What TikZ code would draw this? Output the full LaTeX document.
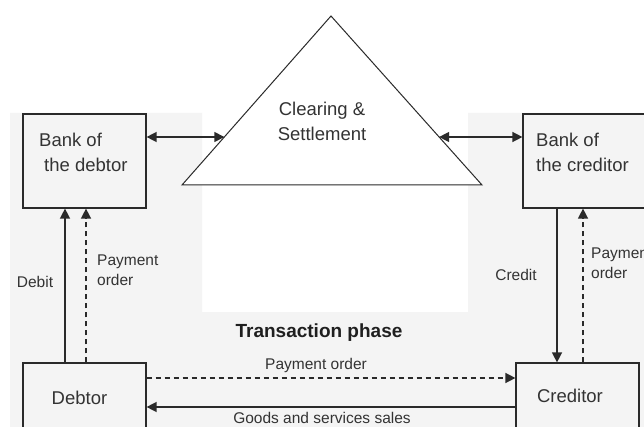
\documentclass[tikz,border=0pt]{standalone}
\usepackage{fontspec}
\setmainfont{Liberation Sans}
\usetikzlibrary{arrows.meta,calc}
\definecolor{panel}{HTML}{F4F4F4}
\definecolor{ink}{HTML}{2A2A2A}
\definecolor{txt}{HTML}{333333}
\begin{document}
\begin{tikzpicture}[x=1pt,y=-1pt,
  box/.style={draw=ink,line width=1.2pt,fill=panel,rectangle,inner sep=0pt},
  boxtext/.style={text=txt,font=\fontsize{18.5}{25}\selectfont,inner sep=0pt},
  lbl/.style={text=txt,font=\fontsize{15.5}{20}\selectfont,inner sep=0pt},
  tip/.style={-{Triangle[length=10pt,width=10pt]}},
  bitip/.style={{Triangle[length=10pt,width=10pt]}-{Triangle[length=10pt,width=10pt]}},
  flow/.style={draw=ink,line width=1.4pt},
  dflow/.style={flow,dash pattern=on 5pt off 4pt}]
\useasboundingbox (0,0) rectangle (644,427);
\clip (0,0) rectangle (644,427);
\fill[white] (0,0) rectangle (644,427);
% grey panel with the white window in the middle
\fill[panel] (10,113) -- (202,113) -- (202,312) -- (468,312) -- (468,113)
  -- (644,113) -- (644,427) -- (10,427) -- cycle;

% clearing and settlement triangle
\coordinate (apex) at (331,16);
\coordinate (tbl) at (182,185);
\coordinate (tbr) at (482,185);
\draw[draw=ink,line width=1pt,fill=white,line join=miter] (tbl) -- (apex) -- (tbr) -- cycle;
\node[boxtext,align=center] (cs) at (322,121) {Clearing \&\\Settlement};

% boxes
\node[box,minimum width=123pt,minimum height=94pt] (bankd) at (84.5,161) {};
\node[box,minimum width=142pt,minimum height=94pt] (bankc) at (594,161) {};
\node[box,minimum width=123pt,minimum height=80pt] (debtor) at (84.5,403) {};
\node[box,minimum width=123pt,minimum height=80pt] (creditor) at (577.5,403) {};

\node[boxtext,anchor=west,align=left] (bdt) at (39,152.5) {Bank of\\\hspace*{5pt}the debtor};
\node[boxtext,anchor=west,align=left] (bct) at (536,152.5) {Bank of\\the creditor};
\node[boxtext] (dt) at (79.5,398) {Debtor};
\node[boxtext] (ct) at (570,396) {Creditor};

% links to the clearing house
\coordinate (ledge) at ($(tbl)!0.284!(apex)$);
\coordinate (redge) at ($(tbr)!0.284!(apex)$);
\draw[flow,bitip] (bankd.east |- ledge) -- (ledge);
\draw[flow,bitip] (redge) -- (bankc.west |- redge);

% debtor side
\coordinate (xdebit) at (65,0);
\coordinate (xdpo) at (86,0);
\draw[flow,tip] (debtor.north -| xdebit) -- (bankd.south -| xdebit);
\draw[dflow,tip] (debtor.north -| xdpo) -- (bankd.south -| xdpo);
\node[lbl] (ldebit) at (35,282) {Debit};
\node[lbl,anchor=west,align=left] (ldpo) at (97,270) {Payment\\order};

% creditor side
\coordinate (xcredit) at (557,0);
\coordinate (xcpo) at (583,0);
\draw[flow,tip] (bankc.south -| xcredit) -- (creditor.north -| xcredit);
\draw[dflow,tip] (creditor.north -| xcpo) -- (bankc.south -| xcpo);
\node[lbl] (lcredit) at (516,275) {Credit};
\node[lbl,anchor=west,align=left] (lcpo) at (591,263) {Payment\\order};

% transaction between debtor and creditor
\node[text=black!88,font=\bfseries\fontsize{19}{22}\selectfont,inner sep=0pt] (phase) at (319,333) {Transaction phase};
\coordinate (ypo) at (0,378);
\coordinate (ygs) at (0,407);
\draw[dflow,tip] (debtor.east |- ypo) -- (creditor.west |- ypo);
\draw[flow,tip] (creditor.west |- ygs) -- (debtor.east |- ygs);
\node[lbl] (lpo) at (316,365) {Payment order};
\node[lbl] (lgs) at (322,418) {Goods and services sales};
\end{tikzpicture}
\end{document}
